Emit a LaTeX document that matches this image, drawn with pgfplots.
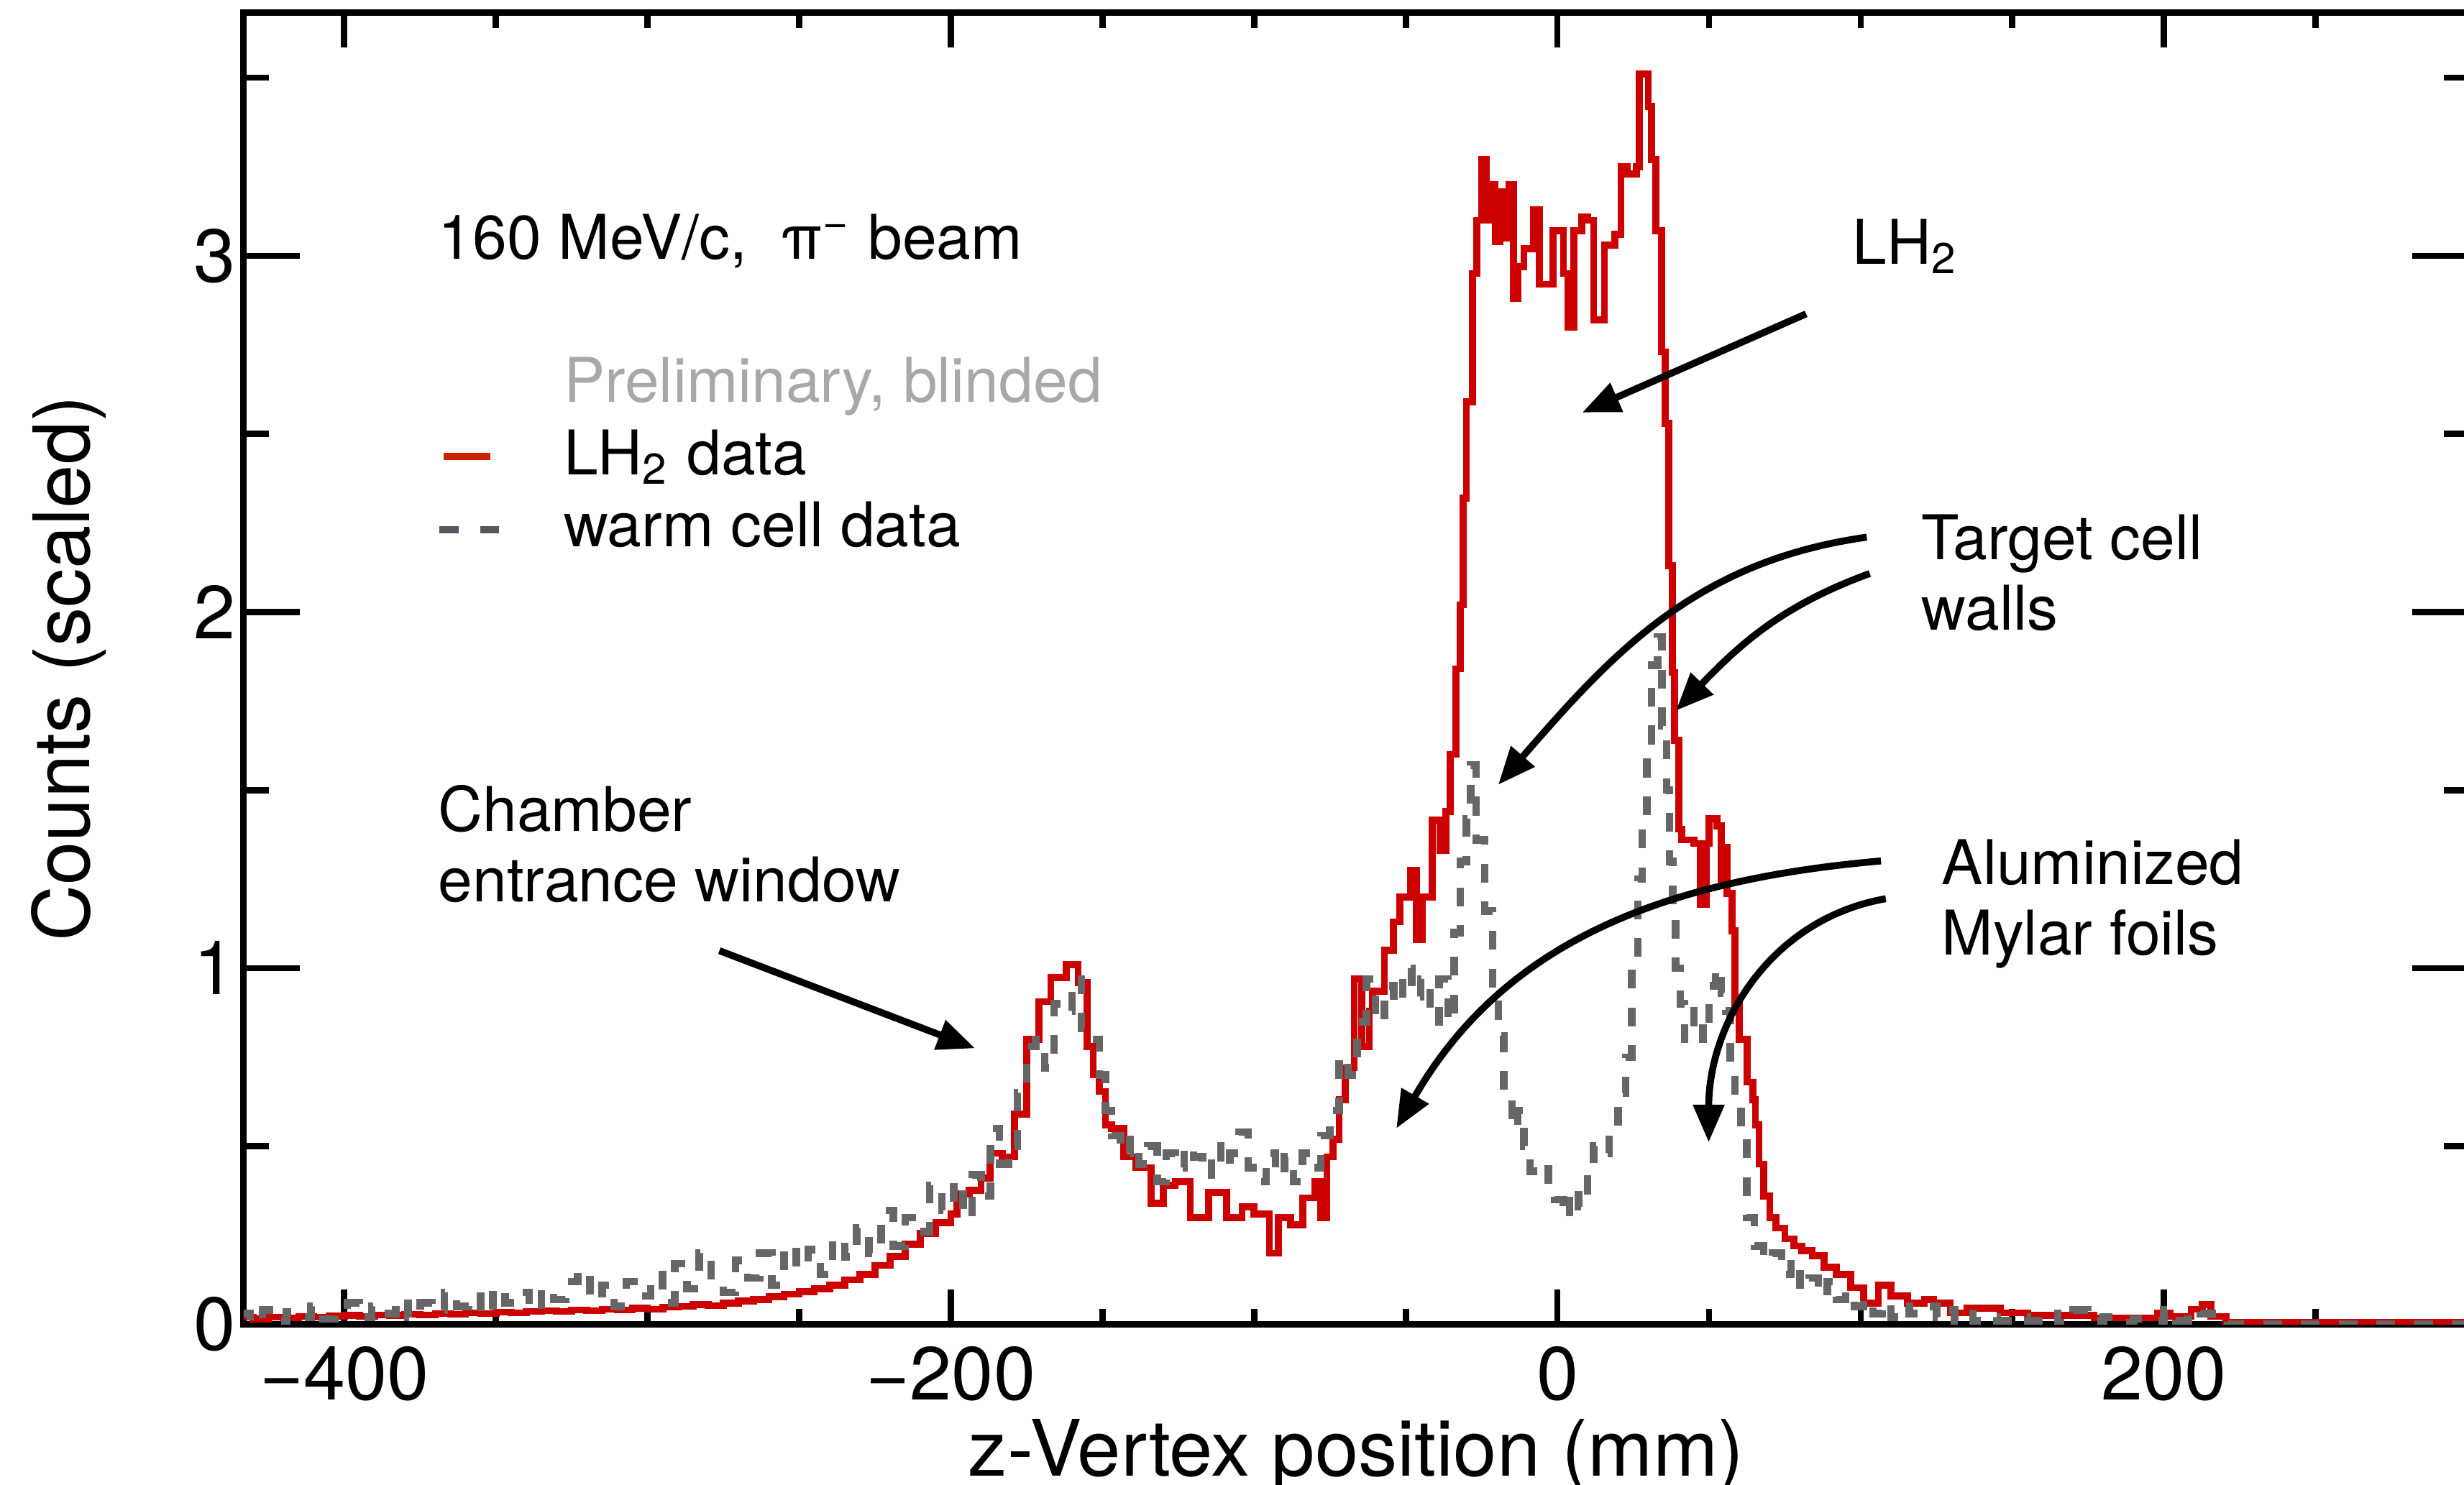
\documentclass[border=0pt]{standalone}
\usepackage{fontspec}
\setmainfont{TeX Gyre Heros}
\usepackage{pgfplots}
\usepackage{pgfplotstable}
\pgfplotsset{compat=1.18}
\usetikzlibrary{arrows.meta}
\definecolor{lhred}{HTML}{CC0000}
\definecolor{warmgray}{HTML}{666666}
\definecolor{prelim}{HTML}{A8A8A8}
\definecolor{legdash}{HTML}{55585F}
\definecolor{legred}{HTML}{CC2200}

\pgfplotstableread{
x y
-435 0.020
-430 0.015
-425 0.020
-420 0.018
-415 0.022
-410 0.020
-405 0.023
-400 0.025
-395 0.022
-390 0.026
-385 0.025
-380 0.028
-375 0.026
-370 0.030
-365 0.028
-360 0.032
-355 0.030
-350 0.034
-345 0.032
-340 0.036
-335 0.038
-330 0.036
-325 0.040
-320 0.038
-315 0.042
-310 0.040
-305 0.045
-300 0.042
-295 0.048
-290 0.050
-285 0.055
-280 0.052
-275 0.060
-270 0.065
-265 0.070
-260 0.078
-255 0.085
-250 0.092
-245 0.100
-240 0.110
-235 0.125
-230 0.140
-225 0.165
-220 0.190
-215 0.225
-210 0.255
-205 0.285
-200 0.310
-198 0.366
-194 0.376
-190 0.410
-187 0.480
-183 0.470
-179 0.590
-175 0.800
-171 0.906
-167 0.973
-162 1.010
-158 0.960
-155 0.780
-153 0.700
-151 0.654
-149 0.560
-147 0.550
-143 0.470
-139 0.440
-134 0.340
-130 0.390
-126 0.400
-121 0.300
-115 0.370
-109 0.300
-104 0.330
-100 0.310
-95 0.200
-92 0.300
-88 0.280
-84 0.355
-80 0.400
-78 0.300
-76 0.470
-74 0.520
-72 0.630
-70 0.720
-67 0.970
-64.5 0.780
-62 0.880
-61 0.935
-57 1.050
-54 1.130
-52 1.200
-48.5 1.275
-46.5 1.080
-44.5 1.200
-41.3 1.415
-38.6 1.330
-36.7 1.440
-35.4 1.600
-33.5 1.840
-32 2.020
-31 2.320
-30 2.590
-28 2.950
-26.5 3.100
-25 3.270
-23.5 3.100
-22 3.200
-20.5 3.040
-19 3.180
-17.5 3.050
-16 3.200
-14.5 2.880
-13 2.970
-11 3.020
-8 3.130
-6 2.920
-1.5 3.070
2 2.950
3.5 2.800
5.5 3.070
8 3.110
10 3.100
12 2.820
15.5 3.030
19 3.060
21 3.250
23 3.230
26 3.250
27 3.510
30 3.420
31 3.270
32.4 3.070
34.3 2.730
35.5 2.530
36.7 2.130
37.9 1.830
38.6 1.640
40 1.390
41 1.360
45 1.350
47 1.180
49 1.350
50 1.420
52.6 1.400
54 1.250
55 1.340
56 1.210
57.6 1.105
58.5 0.900
60 0.800
62.6 0.680
64.4 0.630
65.3 0.560
66.5 0.450
68 0.360
70 0.300
72 0.270
75 0.240
78 0.220
80.6 0.207
84 0.193
88 0.160
92 0.140
96.7 0.103
101 0.060
105.8 0.110
110 0.079
115.5 0.059
121 0.069
124 0.059
129.5 0.032
135 0.045
146 0.032
155 0.025
177 0.018
198 0.032
202 0.022
209 0.042
212.7 0.055
215.5 0.022
220.4 0.006
300.5 0.006
}\redtab

\pgfplotstableread{
x y
-435 0.030
-431 0.005
-427 0.040
-423 0.010
-419 0.035
-415 0.020
-411 0.050
-407 0.015
-403 0.040
-399 0.060
-395 0.020
-391 0.050
-387 0.030
-383 0.070
-379 0.020
-375 0.060
-371 0.040
-367 0.090
-363 0.050
-359 0.080
-355 0.030
-351 0.100
-347 0.060
-343 0.090
-339 0.040
-335 0.100
-331 0.070
-327 0.120
-323 0.150
-319 0.070
-315 0.110
-311 0.050
-307 0.120
-303 0.080
-299 0.140
-295 0.060
-291 0.170
-287 0.100
-283 0.200
-279 0.120
-275 0.090
-271 0.180
-267 0.130
-263 0.200
-259 0.110
-255 0.220
-251 0.160
-247 0.210
-243 0.140
-239 0.240
-235 0.190
-231 0.270
-227 0.200
-223 0.320
-219 0.220
-215 0.300
-211 0.260
-207 0.390
-203 0.320
-199 0.400
-196 0.300
-193 0.420
-190 0.360
-187 0.550
-184 0.450
-181 0.500
-178 0.650
-175 0.780
-172 0.800
-169 0.720
-166 0.900
-163 0.880
-160 0.970
-157 0.830
-154 0.800
-151 0.700
-149 0.600
-147 0.530
-144 0.480
-141 0.520
-138 0.450
-135 0.500
-132 0.400
-129 0.480
-126 0.440
-123 0.500
-120 0.470
-117 0.420
-114 0.500
-111 0.440
-108 0.480
-105 0.540
-102 0.440
-99 0.400
-96 0.480
-93 0.420
-90 0.470
-87 0.400
-84 0.480
-81 0.440
-78 0.530
-75 0.600
-72 0.750
-69 0.700
-66 0.850
-63 0.970
-60 0.850
-57 0.950
-54 0.900
-51 1.000
-48 0.920
-45 0.970
-42 0.850
-39 0.970
-36 0.850
-34 1.100
-32 1.300
-30 1.420
-28.6 1.570
-26.8 1.360
-24 1.160
-21.3 0.940
-19.5 0.810
-17.7 0.640
-15 0.550
-13 0.600
-11 0.500
-9 0.430
-6 0.450
-3 0.380
-1 0.350
2 0.300
4 0.380
7 0.330
10 0.450
12 0.500
15 0.480
17 0.550
20 0.650
22.5 0.750
24.5 1.000
26.5 1.250
28 1.400
29.5 1.620
31 1.850
33 1.930
34.5 1.680
36 1.500
37 1.300
38 1.150
39 1.000
40.5 0.900
42 0.800
45 0.880
48 0.800
50 0.950
52.2 1.000
54 0.930
55.5 0.880
57 0.700
58.5 0.630
60.5 0.550
62.5 0.300
65 0.220
68 0.180
71 0.200
74 0.140
77 0.180
80 0.100
83 0.130
86 0.080
89 0.120
92 0.070
95 0.090
98 0.050
101 0.070
104 0.030
107 0.060
110 0.020
113 0.050
116 0.030
119 0.040
122 0.050
125 0.020
128 0.040
131 0.010
134 0.030
137 0.010
140 0.020
145 0.010
150 0.020
155 0.010
160 0.030
165 0.005
170 0.040
175 0.010
180 0.020
185 0.005
190 0.015
195 0.010
200 0.040
204 0.010
208 0.040
212 0.030
216 0.010
221 0.000
300.5 0.000
}\graytab

\begin{document}
\begin{tikzpicture}
\begin{axis}[name=ax, scale only axis, width=354bp, height=208.75bp,
  xmin=-433.2, xmax=300.5, ymin=0, ymax=3.683,
  axis line style={line width=1bp},
  tick align=inside,
  xtick={-400,-200,0,200}, xticklabels={−400,−200,0,200},
  minor xtick={-350,-300,-250,-150,-100,-50,50,100,150,250,300},
  ytick={0,1,2,3}, yticklabels={0,1,2,3},
  minor ytick={0.5,1.5,2.5,3.5},
  tick style={line width=1bp, black},
  xtick style={/pgfplots/major tick length=5.5bp,/pgfplots/minor tick length=2.5bp},
  ytick style={/pgfplots/major tick length=9bp,/pgfplots/minor tick length=4bp},
  ticklabel style={font=\fontsize{12}{14}\selectfont},
  yticklabel style={xshift=2.2bp},
  xlabel={z-Vertex position (mm)}, ylabel={Counts (scaled)},
  label style={font=\fontsize{12.45}{14.5}\selectfont},
  xlabel style={at={(axis description cs:0.5,-0.1159)}, anchor=base},
  ylabel style={at={(axis description cs:-0.0691,0.5)}, anchor=base},
]
\addplot[const plot mark left, lhred, line width=1.1bp] table[x=x,y=y] {\redtab};
\addplot[const plot mark left, warmgray, line width=1.2bp, dash pattern=on 3bp off 3bp] table[x=x,y=y] {\graytab};

\begin{scope}[every node/.style={anchor=base west, inner xsep=0pt, font=\fontsize{9.85}{12}\selectfont}]
\node at (axis cs:-369.4,2.99) {160 MeV/c,\ \ π\textsuperscript{−} beam};
\node[text=prelim] at (axis cs:-328,2.589) {Preliminary, blinded};
\node at (axis cs:-328,2.386) {LH\textsubscript{2} data};
\node at (axis cs:-328,2.183) {warm cell data};
\node at (axis cs:96.9,2.977) {LH\textsubscript{2}};
\node at (axis cs:119.7,2.148) {Target cell};
\node at (axis cs:119.7,1.950) {walls};
\node at (axis cs:126.4,1.235) {Aluminized};
\node at (axis cs:126.4,1.037) {Mylar foils};
\node at (axis cs:-369.4,1.385) {Chamber};
\node at (axis cs:-369.4,1.187) {entrance window};
\end{scope}

\draw[legred, line width=1.1bp] (axis cs:-367.2,2.437) -- (axis cs:-351.8,2.437);
\draw[legdash, line width=1.1bp] (axis cs:-368.6,2.231) -- (axis cs:-362.3,2.231);
\draw[legdash, line width=1.1bp] (axis cs:-355.1,2.231) -- (axis cs:-349.1,2.231);

\begin{scope}[line width=1.1bp, -{Triangle[length=6bp,width=4.8bp]}]
\draw (axis cs:82,2.837) -- (axis cs:8.2,2.56);
\draw (axis cs:102,2.21) to[out=188,in=49] (axis cs:-19.5,1.515);
\draw (axis cs:103,2.108) to[out=200,in=46] (axis cs:39.1,1.723);
\draw (axis cs:106.7,1.301) to[out=185,in=60] (axis cs:-53.1,0.55);
\draw (axis cs:108.3,1.195) to[out=190,in=90] (axis cs:49.9,0.511);
\draw (axis cs:-276.3,1.049) -- (axis cs:-192,0.775);
\end{scope}
\end{axis}
\pgfresetboundingbox
\useasboundingbox ([shift={(-38.75bp,-25.5bp)}]ax.south west) rectangle ([shift={(353.25bp,210.75bp)}]ax.south west);
\end{tikzpicture}
\end{document}
